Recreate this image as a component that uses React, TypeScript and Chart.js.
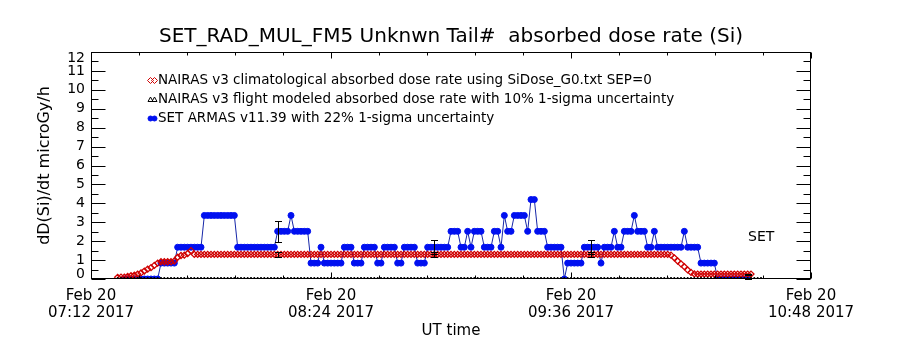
import React, { useEffect, useRef } from "react";
import { Chart, registerables } from "chart.js";

Chart.register(...registerables);

// ---------- text ----------
const TITLE = "SET_RAD_MUL_FM5 Unknwn Tail#  absorbed dose rate (Si)";
const Y_TITLE = "dD(Si)/dt microGy/h";
const X_TITLE = "UT time";
const DATE_LABEL = "Feb 20";
const YEAR_LABEL = "2017";
const X_TICK_TIMES = ["07:12", "08:24", "09:36", "10:48"];
const Y_TICKS = [0, 1, 2, 3, 4, 5, 6, 7, 8, 9, 10, 11, 12];
const LEGEND_CLIM = "NAIRAS v3 climatological absorbed dose rate using SiDose_G0.txt SEP=0";
const LEGEND_FLIGHT = "NAIRAS v3 flight modeled absorbed dose rate with 10% 1-sigma uncertainty";
const LEGEND_SET = "SET ARMAS v11.39 with 22% 1-sigma uncertainty";
const SET_TAG = "SET";

// ---------- data (1-minute cadence) ----------
const CADENCE_MIN = 1;

const CLIM_START = "07:20";
const climValues = [
  0.09, 0.1,
  0.1, 0.14, 0.17, 0.2, 0.26, 0.32, 0.42, 0.52, 0.6, 0.72,
  0.84, 0.91, 0.91, 0.91, 0.91, 0.95, 1.15, 1.24, 1.26, 1.35,
  1.5, 1.3, 1.3, 1.3, 1.3, 1.3, 1.3, 1.3, 1.3, 1.3,
  1.3, 1.3, 1.3, 1.3, 1.3, 1.3, 1.3, 1.3, 1.3, 1.3,
  1.3, 1.3, 1.3, 1.3, 1.3, 1.3, 1.3, 1.3, 1.3, 1.3,
  1.3, 1.3, 1.3, 1.3, 1.3, 1.3, 1.3, 1.3, 1.3, 1.3,
  1.3, 1.3, 1.3, 1.3, 1.3, 1.3, 1.3, 1.3, 1.3, 1.3,
  1.3, 1.3, 1.3, 1.3, 1.3, 1.3, 1.3, 1.3, 1.3, 1.3,
  1.3, 1.3, 1.3, 1.3, 1.3, 1.3, 1.3, 1.3, 1.3, 1.3,
  1.3, 1.3, 1.3, 1.3, 1.3, 1.3, 1.3, 1.3, 1.3, 1.3,
  1.3, 1.3, 1.3, 1.3, 1.3, 1.3, 1.3, 1.3, 1.3, 1.3,
  1.3, 1.3, 1.3, 1.3, 1.3, 1.3, 1.3, 1.3, 1.3, 1.3,
  1.3, 1.3, 1.3, 1.3, 1.3, 1.3, 1.3, 1.3, 1.3, 1.3,
  1.3, 1.3, 1.3, 1.3, 1.3, 1.3, 1.3, 1.3, 1.3, 1.3,
  1.3, 1.3, 1.3, 1.3, 1.3, 1.3, 1.3, 1.3, 1.3, 1.3,
  1.3, 1.3, 1.3, 1.3, 1.3, 1.3, 1.3, 1.3, 1.3, 1.3,
  1.3, 1.3, 1.3, 1.3, 1.26, 1.12, 0.95, 0.8, 0.65, 0.48,
  0.35, 0.27, 0.26, 0.26, 0.26, 0.26, 0.26, 0.26, 0.26, 0.26,
  0.26, 0.26, 0.26, 0.26, 0.26, 0.26, 0.26, 0.26, 0.26,
];

const FLIGHT_START = "07:20";
const flightValues = [
  0, 0,
  0, 0, 0, 0, 0, 0, 0, 0, 0, 0,
  0, 0, 0, 0, 0, 0, 0, 0, 0, 0,
  0, 0, 0, 0, 0, 0, 0, 0, 0, 0,
  0, 0, 0, 0, 0, 0, 0, 0, 0, 0,
  0, 0, 0, 0, 0, 0, 0, 0, 0, 0,
  0, 0, 0, 0, 0, 0, 0, 0, 0, 0,
  0, 0, 0, 0, 0, 0, 0, 0, 0, 0,
  0, 0, 0, 0, 0, 0, 0, 0, 0, 0,
  0, 0, 0, 0, 0, 0, 0, 0, 0, 0,
  0, 0, 0, 0, 0, 0, 0, 0, 0, 0,
  0, 0, 0, 0, 0, 0, 0, 0, 0, 0,
  0, 0, 0, 0, 0, 0, 0, 0, 0, 0,
  0, 0, 0, 0, 0, 0, 0, 0, 0, 0,
  0, 0, 0, 0, 0, 0, 0, 0, 0, 0,
  0, 0, 0, 0, 0, 0, 0, 0, 0, 0,
  0, 0, 0, 0, 0, 0, 0, 0, 0, 0,
  0, 0, 0, 0, 0, 0, 0, 0, 0, 0,
  0, 0, 0, 0, 0, 0, 0, 0, 0, 0,
  0, 0, 0, 0, 0, 0, 0, 0, 0, 0,
  0, 0,
];

const SET_START = "07:22";
const setValues = [
  0, 0, 0, 0, 0, 0, 0, 0, 0, 0,
  0, 0.84, 0.84, 0.84, 0.84, 0.84, 1.68, 1.68, 1.68, 1.68,
  1.68, 1.68, 1.68, 1.68, 3.36, 3.36, 3.36, 3.36, 3.36, 3.36,
  3.36, 3.36, 3.36, 3.36, 1.68, 1.68, 1.68, 1.68, 1.68, 1.68,
  1.68, 1.68, 1.68, 1.68, 1.68, 1.68, 2.52, 2.52, 2.52, 2.52,
  3.36, 2.52, 2.52, 2.52, 2.52, 2.52, 0.84, 0.84, 0.84, 1.68,
  0.84, 0.84, 0.84, 0.84, 0.84, 0.84, 1.68, 1.68, 1.68, 0.84,
  0.84, 0.84, 1.68, 1.68, 1.68, 1.68, 0.84, 0.84, 1.68, 1.68,
  1.68, 1.68, 0.84, 0.84, 1.68, 1.68, 1.68, 1.68, 0.84, 0.84,
  0.84, 1.68, 1.68, 1.68, 1.68, 1.68, 1.68, 1.68, 2.52, 2.52,
  2.52, 1.68, 1.68, 2.52, 1.68, 2.52, 2.52, 2.52, 1.68, 1.68,
  1.68, 2.52, 2.52, 1.68, 3.36, 2.52, 2.52, 3.36, 3.36, 3.36,
  3.36, 2.52, 4.2, 4.2, 2.52, 2.52, 2.52, 1.68, 1.68, 1.68,
  1.68, 1.68, 0, 0.84, 0.84, 0.84, 0.84, 0.84, 1.68, 1.68,
  1.68, 1.68, 1.68, 0.84, 1.68, 1.68, 1.68, 2.52, 1.68, 1.68,
  2.52, 2.52, 2.52, 3.36, 2.52, 2.52, 2.52, 1.68, 1.68, 2.52,
  1.68, 1.68, 1.68, 1.68, 1.68, 1.68, 1.68, 1.68, 2.52, 1.68,
  1.68, 1.68, 1.68, 0.84, 0.84, 0.84, 0.84, 0.84, 0, 0,
  0, 0, 0, 0, 0, 0, 0, 0,
];

const ERR_TIMES = ["08:08", "08:55", "09:42", "10:29"];
const SET_SIGMA = 0.22;
const NAIRAS_SIGMA = 0.1;

// ---------- helpers ----------
const toMin = (t: string) => {
  const [h, m] = t.split(":").map(Number);
  return h * 60 + m;
};
const fmt = (v: number) =>
  `${String(Math.floor(v / 60)).padStart(2, "0")}:${String(Math.round(v % 60)).padStart(2, "0")}`;
const series = (start: string, vals: number[]) =>
  vals.map((v, i) => ({ x: toMin(start) + i * CADENCE_MIN, y: v }));
const valueAt = (start: string, vals: number[], t: string) => {
  const i = Math.round((toMin(t) - toMin(start)) / CADENCE_MIN);
  return i >= 0 && i < vals.length ? vals[i] : null;
};

const FONT = "DejaVu Sans";
const RED = "#d00000";
const BLUE = "#0010f0";
const NAVY = "#1626a8";

function marker(ctx: CanvasRenderingContext2D, style: string, x: number, y: number, r: number, stroke: string | null, fill: string | null) {
  ctx.beginPath();
  if (style === "diamond") {
    ctx.moveTo(x, y - r);
    ctx.lineTo(x + r, y);
    ctx.lineTo(x, y + r);
    ctx.lineTo(x - r, y);
    ctx.closePath();
  } else if (style === "triangle") {
    ctx.moveTo(x, y - r);
    ctx.lineTo(x + r, y + r * 0.8);
    ctx.lineTo(x - r, y + r * 0.8);
    ctx.closePath();
  } else {
    ctx.arc(x, y, r, 0, Math.PI * 2);
  }
  if (fill) {
    ctx.fillStyle = fill;
    ctx.fill();
  }
  if (stroke) {
    ctx.strokeStyle = stroke;
    ctx.lineWidth = 1;
    ctx.stroke();
  }
}

const decor = {
  id: "decor",
  beforeDraw(chart: any) {
    const items = chart.scales.y.getLabelItems();
    items.forEach((it: any) => {
      if (it._shifted) return;
      it._shifted = true;
      if (it.label === String(Y_TICKS[0])) it.options.translation[1] -= 5;
      if (it.label === String(Y_TICKS[Y_TICKS.length - 1])) it.options.translation[1] += 6;
    });
  },
  afterDraw(chart: any) {
    const { ctx, chartArea: a, scales } = chart;
    const x = scales.x;
    const y = scales.y;
    ctx.save();
    ctx.strokeStyle = "#000";
    ctx.lineWidth = 1;
    const L = Math.round(a.left) + 0.5;
    const R = Math.round(a.right) - 0.5;
    const T = Math.round(a.top) + 0.5;
    const B = Math.round(a.bottom) - 0.5;
    ctx.strokeRect(L, T, R - L, B - T);
    ctx.beginPath();
    for (let v = Y_TICKS[0]; v <= Y_TICKS[Y_TICKS.length - 1] + 1e-6; v += 0.5) {
      const py = Math.round(y.getPixelForValue(v)) + 0.5;
      const len = Math.abs(v - Math.round(v)) < 1e-6 ? 14 : 7;
      ctx.moveTo(L, py);
      ctx.lineTo(L + len, py);
      ctx.moveTo(R, py);
      ctx.lineTo(R - len, py);
    }
    const majors = X_TICK_TIMES.map(toMin);
    for (let k = 0; k < majors.length; k++) {
      for (let j = 0; j < 5; j++) {
        const v = majors[k] + ((majors[1] - majors[0]) / 5) * j;
        if (v > majors[majors.length - 1]) break;
        const px = Math.round(x.getPixelForValue(v)) + 0.5;
        const len = j === 0 ? 6 : 3;
        ctx.moveTo(px, T);
        ctx.lineTo(px, T + len);
        ctx.moveTo(px, B);
        ctx.lineTo(px, B - len);
      }
    }
    ctx.stroke();

    const ebar = (t: string, v: number | null, s: number) => {
      if (v === null) return;
      const px = Math.round(x.getPixelForValue(toMin(t))) + 0.5;
      const lo = Math.round(y.getPixelForValue(v * (1 - s))) + 0.5;
      const hi = Math.round(y.getPixelForValue(v * (1 + s))) + 0.5;
      ctx.beginPath();
      ctx.moveTo(px, lo);
      ctx.lineTo(px, hi);
      ctx.moveTo(px - 3.5, lo);
      ctx.lineTo(px + 3.5, lo);
      ctx.moveTo(px - 3.5, hi);
      ctx.lineTo(px + 3.5, hi);
      ctx.stroke();
    };
    ERR_TIMES.forEach((t) => {
      ebar(t, valueAt(SET_START, setValues, t), SET_SIGMA);
      ebar(t, valueAt(CLIM_START, climValues, t), NAIRAS_SIGMA);
    });

    const ds = chart.data.datasets;
    const rows = [
      { label: ds[1].label, style: "diamond", stroke: RED, fill: null, r: 3 },
      { label: ds[0].label, style: "triangle", stroke: "#000", fill: null, r: 2.5 },
      { label: ds[2].label, style: "circle", stroke: BLUE, fill: BLUE, r: 2.5 },
    ];
    ctx.font = `13.5px "${FONT}"`;
    ctx.textBaseline = "middle";
    ctx.textAlign = "left";
    rows.forEach((row, i) => {
      const cy = a.top + 28.5 + i * 19;
      marker(ctx, row.style, a.left + 59.5, cy, row.r, row.stroke, row.fill);
      marker(ctx, row.style, a.left + 63.5, cy, row.r, row.stroke, row.fill);
      ctx.fillStyle = "#000";
      ctx.fillText(row.label, a.left + 67, cy);
    });

    ctx.font = `14px "${FONT}"`;
    ctx.fillText(SET_TAG, a.left + 657, a.top + 185);
    ctx.restore();
  },
};

export default function App() {
  const ref = useRef<HTMLCanvasElement | null>(null);
  useEffect(() => {
    document.body.style.margin = "0";
    Chart.defaults.color = "#000";
    const chart = new Chart(ref.current as HTMLCanvasElement, {
      type: "line",
      data: {
        datasets: [
          {
            label: LEGEND_FLIGHT,
            data: series(FLIGHT_START, flightValues),
            showLine: false,
            pointStyle: "triangle",
            pointRadius: 2,
            pointBorderWidth: 1,
            pointBorderColor: "#000",
            pointBackgroundColor: "rgba(0,0,0,0)",
            order: 0,
          },
          {
            label: LEGEND_CLIM,
            data: series(CLIM_START, climValues),
            showLine: false,
            pointStyle: "rectRot",
            pointRadius: 3,
            pointBorderWidth: 1.3,
            pointBorderColor: RED,
            pointBackgroundColor: "rgba(0,0,0,0)",
            order: 1,
          },
          {
            label: LEGEND_SET,
            data: series(SET_START, setValues),
            showLine: true,
            borderColor: NAVY,
            borderWidth: 1,
            pointStyle: "circle",
            pointRadius: 3,
            pointBorderWidth: 1,
            pointBorderColor: BLUE,
            pointBackgroundColor: BLUE,
            order: 2,
          },
        ] as any,
      },
      options: {
        animation: false,
        responsive: true,
        maintainAspectRatio: false,
        devicePixelRatio: 1,
        events: [],
        layout: { padding: { left: 0, right: 89, top: 0, bottom: 0 } },
        plugins: {
          legend: { display: false },
          tooltip: { enabled: false },
          title: {
            display: true,
            fullSize: false,
            text: TITLE,
            color: "#000",
            font: { family: FONT, size: 20, weight: "normal", lineHeight: "22px" },
            padding: { top: 26, bottom: 4 },
          },
        },
        scales: {
          x: {
            type: "linear",
            min: toMin(X_TICK_TIMES[0]),
            max: toMin(X_TICK_TIMES[X_TICK_TIMES.length - 1]),
            grid: { display: false, drawTicks: false },
            border: { display: false },
            afterBuildTicks: (s: any) => {
              s.ticks = X_TICK_TIMES.map((t) => ({ value: toMin(t) }));
            },
            afterFit: (s: any) => {
              s.height = 71;
            },
            ticks: {
              autoSkip: false,
              maxRotation: 0,
              minRotation: 0,
              padding: 9,
              color: "#000",
              font: { family: FONT, size: 15, lineHeight: "17px" },
              callback: (v: any) => [DATE_LABEL, `${fmt(Number(v))} ${YEAR_LABEL}`],
            },
            title: {
              display: true,
              text: X_TITLE,
              color: "#000",
              font: { family: FONT, size: 15, lineHeight: "18px" },
              padding: { top: 0, bottom: 9.5 },
            },
          },
          y: {
            type: "linear",
            min: Y_TICKS[0],
            max: Y_TICKS[Y_TICKS.length - 1],
            grid: { display: false, drawTicks: false },
            border: { display: false },
            afterBuildTicks: (s: any) => {
              s.ticks = Y_TICKS.map((v) => ({ value: v }));
            },
            afterFit: (s: any) => {
              s.width = 91;
            },
            ticks: {
              autoSkip: false,
              padding: 6,
              color: "#000",
              font: { family: FONT, size: 14 },
              callback: (v: any) => String(v),
            },
            title: {
              display: true,
              text: Y_TITLE,
              color: "#000",
              font: { family: FONT, size: 16, lineHeight: "18px" },
              padding: { top: 36, bottom: 0 },
            },
          },
        },
      } as any,
      plugins: [decor],
    });
    return () => chart.destroy();
  }, []);
  return (
    <div style={{ position: "relative", width: 900, height: 350 }}>
      <canvas ref={ref} />
    </div>
  );
}
